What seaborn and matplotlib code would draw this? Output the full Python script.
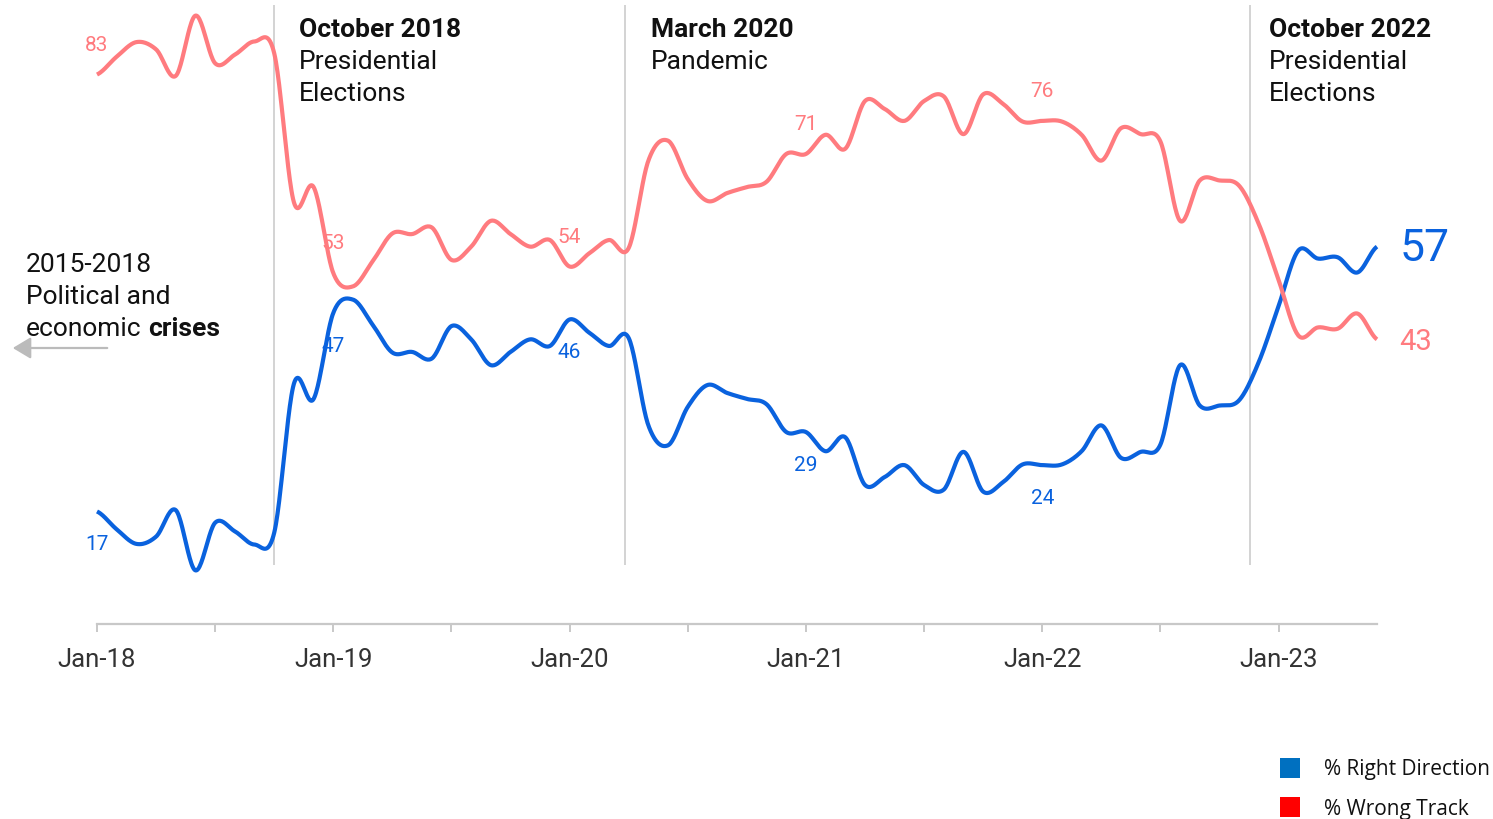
import numpy as np
import pandas as pd
import matplotlib
matplotlib.use("Agg")
import matplotlib.pyplot as plt
from matplotlib.patches import Rectangle, FancyArrowPatch
import seaborn as sns

# Monthly survey readings, Jan 2018 - Jun 2023 (percent)
right_direction = [
    17.0, 14.3, 12.1, 13.2, 17.2, 8.1, 15.3, 14.0, 12.0, 13.8,
    36.3, 34.0, 47.0, 49.0, 45.2, 41.0, 41.1, 40.1, 45.0, 43.0,
    39.1, 41.1, 43.0, 42.0, 46.0, 44.0, 42.0, 43.2, 30.0, 27.0,
    32.8, 36.1, 34.9, 34.0, 33.2, 29.0, 29.0, 26.1, 28.2, 21.0,
    22.2, 24.0, 21.0, 20.3, 26.0, 20.0, 21.4, 24.1, 24.0, 24.1,
    26.1, 30.0, 25.1, 26.0, 27.1, 39.1, 33.0, 33.0, 33.8, 39.6,
    48.0, 56.4, 55.2, 55.4, 53.1, 57.0,
]
wrong_track = [
    83.0, 85.7, 87.9, 86.8, 82.8, 91.9, 84.7, 86.0, 88.0, 86.2,
    63.7, 66.0, 53.0, 51.0, 54.8, 59.0, 58.9, 59.9, 55.0, 57.0,
    60.9, 58.9, 57.0, 58.0, 54.0, 56.0, 58.0, 56.8, 70.0, 73.0,
    67.2, 63.9, 65.1, 66.0, 66.8, 71.0, 71.0, 73.9, 71.8, 79.0,
    77.8, 76.0, 79.0, 79.7, 74.0, 80.0, 78.6, 75.9, 76.0, 75.9,
    73.9, 70.0, 74.9, 74.0, 72.9, 60.9, 67.0, 67.0, 66.2, 60.4,
    52.0, 43.6, 44.8, 44.6, 46.9, 43.0,
]
tick_months = [0, 6, 12, 18, 24, 30, 36, 42, 48, 54, 60]
tick_labels = ["Jan-18", "", "Jan-19", "", "Jan-20", "", "Jan-21", "",
               "Jan-22", "", "Jan-23"]
labelled_months = [0, 12, 24, 36, 48]
events = [
    ("October 2018", ["Presidential", "Elections"]),
    ("March 2020", ["Pandemic"]),
    ("October 2022", ["Presidential", "Elections"]),
]
event_months = [9.0, 26.8, 58.55]
event_text_x = [299, 651, 1269]   # pixel left edge of each event caption

BLUE = "#0A62DE"
RED = "#FF7B7F"
GREY = "#c8c8c8"
INK = "#111111"
W, H = 1493, 819
NOTE_SIZE = 19


def px(x, y):
    """Pixel position (from top-left) to figure fraction."""
    return x / W, 1 - y / H


def catmull_rom(values, steps=24):
    v = np.asarray(values, dtype=float)
    p = np.concatenate([[v[0]], v, [v[-1]]])
    xs, ys = [], []
    t = np.linspace(0, 1, steps, endpoint=False)
    for i in range(len(v) - 1):
        p0, p1, p2, p3 = p[i], p[i + 1], p[i + 2], p[i + 3]
        seg = 0.5 * ((2 * p1) + (-p0 + p2) * t
                     + (2 * p0 - 5 * p1 + 4 * p2 - p3) * t ** 2
                     + (-p0 + 3 * p1 - 3 * p2 + p3) * t ** 3)
        xs.append(i + t)
        ys.append(seg)
    xs.append([len(v) - 1])
    ys.append([v[-1]])
    return np.concatenate(xs), np.concatenate(ys)


sns.set_theme(style="white")
plt.rcParams["font.family"] = ["Roboto", "DejaVu Sans"]

months = np.arange(len(right_direction))
frames = []
for name, vals in [("% Right Direction", right_direction),
                   ("% Wrong Track", wrong_track)]:
    sx, sy = catmull_rom(vals)
    frames.append(pd.DataFrame({"month": sx, "value": sy, "series": name}))
smooth = pd.concat(frames, ignore_index=True)

fig = plt.figure(figsize=(W / 100, H / 100), dpi=100)
ax_l, ax_b = px(97, 624)
ax_r, _ = px(1377, 0)
ymax = 94
ax = fig.add_axes([ax_l, ax_b, ax_r - ax_l, ymax * 6.62 / H])

sns.lineplot(data=smooth, x="month", y="value", hue="series",
             palette={"% Right Direction": BLUE, "% Wrong Track": RED},
             linewidth=3.0, legend=False, ax=ax, sort=False,
             estimator=None, solid_capstyle="butt", zorder=3)
for line in ax.lines:
    line.set_clip_on(False)

ax.set_xlim(0, len(months) - 1)
ax.set_ylim(0, ymax)
ax.set_xlabel("")
ax.set_ylabel("")
ax.set_yticks([])
for side in ["left", "right", "top"]:
    ax.spines[side].set_visible(False)
ax.spines["bottom"].set_color(GREY)
ax.spines["bottom"].set_linewidth(1.6)
ax.set_xticks(tick_months)
ax.set_xticklabels(tick_labels)
ax.tick_params(axis="x", direction="out", length=6, width=1.4, color=GREY,
               labelsize=18.5, labelcolor="#333333", pad=11, bottom=True)

# event markers
ax.vlines(event_months, 8.9, 93.5, color=GREY, linewidth=1.1, zorder=1)
for xpix, (title, lines) in zip(event_text_x, events):
    fx, fy = px(xpix, 30)
    fig.text(fx, fy, title, fontsize=NOTE_SIZE, fontweight="bold", color=INK,
             ha="left", va="center")
    for k, ln in enumerate(lines):
        fx, fy = px(xpix, 62 + 32 * k)
        fig.text(fx, fy, ln, fontsize=NOTE_SIZE, color=INK,
                 ha="left", va="center")

# value labels
for m in labelled_months:
    ax.annotate(f"{wrong_track[m]:.0f}", (m, wrong_track[m]),
                xytext=(0, 21), textcoords="offset points", ha="center",
                va="center", fontsize=15, color=RED, zorder=2)
    ax.annotate(f"{right_direction[m]:.0f}", (m, right_direction[m]),
                xytext=(0, -24), textcoords="offset points", ha="center",
                va="center", fontsize=15, color=BLUE, zorder=2)
last = len(months) - 1
ax.annotate(f"{right_direction[last]:.0f}", (last, right_direction[last]),
            xytext=(16, -2), textcoords="offset points", ha="left",
            va="center", fontsize=32, color=BLUE, annotation_clip=False)
ax.annotate(f"{wrong_track[last]:.0f}", (last, wrong_track[last]),
            xytext=(16, -2), textcoords="offset points", ha="left",
            va="center", fontsize=21, color=RED, annotation_clip=False)

# earlier context note with arrow
for k, ln in enumerate(["2015-2018", "Political and"]):
    fx, fy = px(26, 265 + 32 * k)
    fig.text(fx, fy, ln, fontsize=NOTE_SIZE, color=INK, va="center")
fx, fy = px(26, 329)
plain = fig.text(fx, fy, "economic", fontsize=NOTE_SIZE, color=INK,
                 va="center")
fig.canvas.draw()
ext = plain.get_window_extent()
space = NOTE_SIZE * 0.25 * 100 / 72
fig.text((ext.x1 + space) / W, fy, "crises", fontsize=NOTE_SIZE,
         fontweight="bold", color=INK, va="center")
arrow = FancyArrowPatch(px(110, 348), px(10, 348), transform=fig.transFigure,
                        arrowstyle="-|>,head_length=5,head_width=3",
                        color="#bbbbbb", linewidth=1.6, mutation_scale=2.2)
fig.add_artist(arrow)

# legend
for ytop, colour, text in [(758, "#0070C0", "% Right Direction"),
                           (797, "#FF0000", "% Wrong Track")]:
    x0, y0 = px(1280, ytop + 20)
    fig.add_artist(Rectangle((x0, y0), 20 / W, 20 / H, transform=fig.transFigure,
                             facecolor=colour, edgecolor="none"))
    fx, fy = px(1324, ytop + 12)
    fig.text(fx, fy, text, fontsize=15, color=INK, va="center",
             family=["Open Sans", "DejaVu Sans"])

fig.savefig("out.png", dpi=100, facecolor="white")
